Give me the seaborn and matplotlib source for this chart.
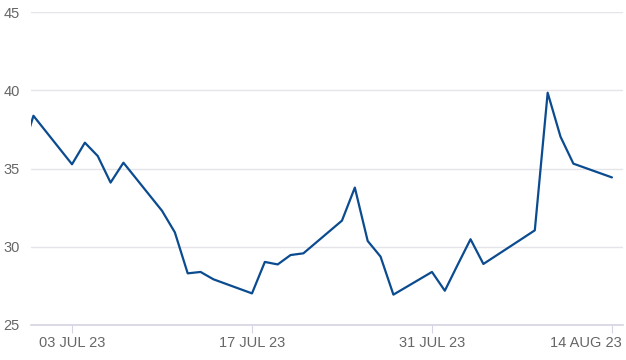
import matplotlib
matplotlib.use("Agg")
import matplotlib.pyplot as plt
import matplotlib.transforms as mtransforms
import seaborn as sns
import pandas as pd

dates = ["2023-06-29", "2023-06-30", "2023-07-03", "2023-07-04", "2023-07-05", "2023-07-06",
         "2023-07-07", "2023-07-10", "2023-07-11", "2023-07-12", "2023-07-13", "2023-07-14",
         "2023-07-17", "2023-07-18", "2023-07-19", "2023-07-20", "2023-07-21", "2023-07-24",
         "2023-07-25", "2023-07-26", "2023-07-27", "2023-07-28", "2023-07-31", "2023-08-01",
         "2023-08-02", "2023-08-03", "2023-08-04", "2023-08-07", "2023-08-08", "2023-08-09",
         "2023-08-10", "2023-08-11", "2023-08-14"]
values = [35.7, 38.37, 35.27, 36.65, 35.8, 34.1,
          35.37, 32.3, 30.92, 28.30, 28.39, 27.92,
          27.02, 29.03, 28.87, 29.47, 29.58, 31.67,
          33.78, 30.37, 29.37, 26.94, 28.39, 27.19,
          28.85, 30.48, 28.90, 30.51, 31.05, 39.84,
          37.03, 35.31, 34.43]
tick_dates = ["2023-07-03", "2023-07-17", "2023-07-31", "2023-08-14"]
tick_labels = ["03 JUL 23", "17 JUL 23", "31 JUL 23", "14 AUG 23"]
y_ticks = [25, 30, 35, 40, 45]

df = pd.DataFrame({"date": pd.to_datetime(dates), "value": values})

sns.set_theme(style="white")
plt.rcParams["font.family"] = ["Liberation Sans", "DejaVu Sans"]

fig = plt.figure(figsize=(6.26, 3.6), dpi=100)
ax = fig.add_axes([31 / 626, 1 - 325 / 360, (623 - 31) / 626, (325 - 12) / 360])

sns.lineplot(data=df, x="date", y="value", ax=ax, color="#0b4b8f", linewidth=1.6)

ax.set_ylim(25, 45)
ax.set_yticks(y_ticks)
ax.set_yticklabels([str(v) for v in y_ticks])
x0 = pd.Timestamp("2023-07-03") - pd.Timedelta(days=3.19)
x1 = pd.Timestamp("2023-08-14") + pd.Timedelta(days=0.86)
ax.set_xlim(x0, x1)
ax.set_xticks(pd.to_datetime(tick_dates))
ax.set_xticklabels(tick_labels)

ax.grid(axis="y", color="#e4e4ea", linewidth=1.0)
ax.grid(axis="x", visible=False)
ax.set_axisbelow(True)
for s in ["top", "right", "left"]:
    ax.spines[s].set_visible(False)
ax.spines["bottom"].set_color("#d4d4e4")
ax.spines["bottom"].set_linewidth(1.2)

ax.tick_params(axis="y", length=0, pad=8, labelsize=10.5, labelcolor="#666666")
ax.tick_params(axis="x", length=6, width=0.8, color="#d4d4e4", pad=2,
               labelsize=10.5, labelcolor="#666666", direction="out", bottom=True)

last = ax.get_xticklabels()[-1]
last.set_horizontalalignment("right")
last.set_transform(last.get_transform() + mtransforms.ScaledTranslation(0.10, 0, fig.dpi_scale_trans))

ax.set_xlabel("")
ax.set_ylabel("")

fig.savefig("out.png", dpi=100)
